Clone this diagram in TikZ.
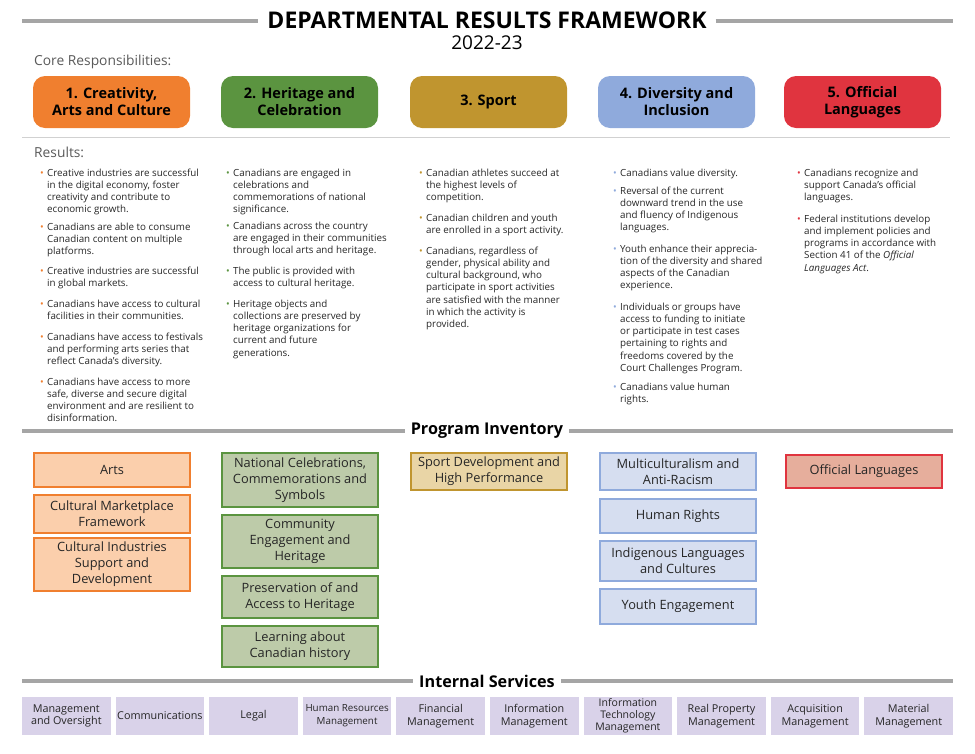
\documentclass[tikz,border=0pt]{standalone}
\usepackage{fontspec}
\setmainfont{Open Sans}
\usetikzlibrary{positioning}

\definecolor{arancio}{HTML}{F07F2F}
\definecolor{aranciochiaro}{HTML}{FBCFAC}
\definecolor{verde}{HTML}{5B9440}
\definecolor{verdechiaro}{HTML}{BDCBA9}
\definecolor{oro}{HTML}{C0952F}
\definecolor{orochiaro}{HTML}{E9D5A6}
\definecolor{blu}{HTML}{8FAADC}
\definecolor{bluchiaro}{HTML}{D6DEF0}
\definecolor{rosso}{HTML}{E0343F}
\definecolor{rossochiaro}{HTML}{E6AE9C}
\definecolor{lavanda}{HTML}{D9D2E9}
\definecolor{grigiolinea}{HTML}{A5A5A5}
\definecolor{grigiotesto}{HTML}{595959}
\definecolor{testo}{HTML}{262626}

\newcommand{\pallino}[1]{\strut\llap{\textcolor{#1}{\textbullet}\hspace{3.5pt}}}

\begin{document}
\begin{tikzpicture}[x=1pt, y=-1pt,
    titolo/.style={font=\bfseries\fontsize{23}{26}\selectfont, inner xsep=9pt, inner ysep=0pt},
    sezione/.style={font=\bfseries\fontsize{16.2}{18}\selectfont, inner xsep=6pt, inner ysep=0pt},
    linea/.style={line width=3.5pt, grigiolinea},
    etichetta/.style={anchor=west, inner sep=0pt, text=grigiotesto, font=\fontsize{13.8}{15}\selectfont},
    resp/.style={rounded corners=12pt, minimum width=157pt, minimum height=52pt, inner sep=0pt,
                 align=center, font=\bfseries\fontsize{14.5}{17}\selectfont},
    esito/.style={anchor=north west, align=left, inner sep=0pt, text=testo, font=\fontsize{9.8}{12.2}\selectfont},
    prog/.style={draw, line width=1.2pt, minimum width=156pt, inner sep=0pt, align=center,
                 text=testo, font=\fontsize{12.8}{16}\selectfont},
    serv/.style={fill=lavanda, minimum width=88.5pt, minimum height=38pt, inner sep=0pt, align=center,
                 text=testo, font=\fontsize{10.8}{12.8}\selectfont}]
    \useasboundingbox (0,0) rectangle (975,753);

    % Titolo
    \node[titolo] (titolo) at (487,20) {DEPARTMENTAL RESULTS FRAMEWORK};
    \node[font=\fontsize{19}{22}\selectfont, inner sep=0pt] (anno) at (487,43) {2022-23};
    \coordinate (tsx) at (22,21);
    \coordinate (tdx) at (953,21);
    \draw[linea] (tsx) -- (tsx -| titolo.west);
    \draw[linea] (tdx -| titolo.east) -- (tdx);

    % Responsabilita essenziali
    \node[etichetta] (core) at (34,62) {Core Responsibilities:};
    \node[resp, fill=arancio] (r1) at (111.5,102) {1. Creativity,\\Arts and Culture};
    \node[resp, fill=verde] (r2) at (299.5,102) {2. Heritage and\\Celebration};
    \node[resp, fill=oro] (r3) at (488.5,102) {3. Sport};
    \node[resp, fill=blu] (r4) at (676.5,102) {4. Diversity and\\Inclusion};
    \node[resp, fill=rosso] (r5) at (862.5,102) {5. Official\\Languages};
    \coordinate (sep1) at (22,137);
    \coordinate (sep2) at (950,137);
    \draw[black!18, line width=0.8pt] (sep1) -- (sep2);

    % Risultati
    \node[etichetta] (ris) at (34,152) {Results:};

    % colonna 1
    \node[esito] (e11) at (47,167.5) {\pallino{arancio}Creative industries are successful\\in the digital economy, foster\\creativity and contribute to\\economic growth.};
    \node[esito] (e12) at (47,221.5) {\pallino{arancio}Canadians are able to consume\\Canadian content on multiple\\platforms.};
    \node[esito] (e13) at (47,265.5) {\pallino{arancio}Creative industries are successful\\in global markets.};
    \node[esito] (e14) at (47,298.5) {\pallino{arancio}Canadians have access to cultural\\facilities in their communities.};
    \node[esito] (e15) at (47,331.5) {\pallino{arancio}Canadians have access to festivals\\and performing arts series that\\reflect Canada's diversity.};
    \node[esito] (e16) at (47,376.5) {\pallino{arancio}Canadians have access to more\\safe, diverse and secure digital\\environment and are resilient to\\disinformation.};

    % colonna 2
    \node[esito] (e21) at (233,167.5) {\pallino{verde}Canadians are engaged in\\celebrations and\\commemorations of national\\significance.};
    \node[esito] (e22) at (233,220.5) {\pallino{verde}Canadians across the country\\are engaged in their communities\\through local arts and heritage.};
    \node[esito] (e23) at (233,265.5) {\pallino{verde}The public is provided with\\access to cultural heritage.};
    \node[esito] (e24) at (233,298.5) {\pallino{verde}Heritage objects and\\collections are preserved by\\heritage organizations for\\current and future\\generations.};

    % colonna 3
    \node[esito] (e31) at (426,167.5) {\pallino{oro}Canadian athletes succeed at\\the highest levels of\\competition.};
    \node[esito] (e32) at (426,212.5) {\pallino{oro}Canadian children and youth\\are enrolled in a sport activity.};
    \node[esito] (e33) at (426,245.5) {\pallino{oro}Canadians, regardless of\\gender, physical ability and\\cultural background, who\\participate in sport activities\\are satisfied with the manner\\in which the activity is\\provided.};

    % colonna 4
    \node[esito] (e41) at (620,167.5) {\pallino{blu}Canadians value diversity.};
    \node[esito] (e42) at (620,185.5) {\pallino{blu}Reversal of the current\\downward trend in the use\\and fluency of Indigenous\\languages.};
    \node[esito] (e43) at (620,243.5) {\pallino{blu}Youth enhance their apprecia-\\tion of the diversity and shared\\aspects of the Canadian\\experience.};
    \node[esito] (e44) at (620,301.5) {\pallino{blu}Individuals or groups have\\access to funding to initiate\\or participate in test cases\\pertaining to rights and\\freedoms covered by the\\Court Challenges Program.};
    \node[esito] (e45) at (620,381.5) {\pallino{blu}Canadians value human\\rights.};

    % colonna 5
    \node[esito] (e51) at (804,167.5) {\pallino{rosso}Canadians recognize and\\support Canada's official\\languages.};
    \node[esito] (e52) at (804,213.5) {\pallino{rosso}Federal institutions develop\\and implement policies and\\programs in accordance with\\Section 41 of the \textit{Official}\\\textit{Languages Act}.};

    % Inventario dei programmi
    \node[sezione] (inv) at (487,431) {Program Inventory};
    \coordinate (isx) at (22,431);
    \coordinate (idx) at (953,431);
    \draw[linea] (isx) -- (isx -| inv.west);
    \draw[linea] (idx -| inv.east) -- (idx);

    \node[prog, draw=arancio, fill=aranciochiaro, minimum height=34pt] (p11) at (112,470) {Arts};
    \node[prog, draw=arancio, fill=aranciochiaro, minimum height=38pt] (p12) at (112,514) {Cultural Marketplace\\Framework};
    \node[prog, draw=arancio, fill=aranciochiaro, minimum height=53pt] (p13) at (112,564.5) {Cultural Industries\\Support and\\Development};

    \node[prog, draw=verde, fill=verdechiaro, minimum height=54pt] (p21) at (300,480) {National Celebrations,\\Commemorations and\\Symbols};
    \node[prog, draw=verde, fill=verdechiaro, minimum height=53pt] (p22) at (300,541.5) {Community\\Engagement and\\Heritage};
    \node[prog, draw=verde, fill=verdechiaro, minimum height=42pt] (p23) at (300,597) {Preservation of and\\Access to Heritage};
    \node[prog, draw=verde, fill=verdechiaro, minimum height=41pt] (p24) at (300,646.5) {Learning about\\Canadian history};

    \node[prog, draw=oro, fill=orochiaro, minimum height=37pt] (p31) at (489,471.5) {Sport Development and\\High Performance};

    \node[prog, draw=blu, fill=bluchiaro, minimum height=37pt] (p41) at (678,471.5) {Multiculturalism and\\Anti-Racism};
    \node[prog, draw=blu, fill=bluchiaro, minimum height=34pt] (p42) at (678,516) {Human Rights};
    \node[prog, draw=blu, fill=bluchiaro, minimum height=40pt] (p43) at (678,561) {Indigenous Languages\\and Cultures};
    \node[prog, draw=blu, fill=bluchiaro, minimum height=35pt] (p44) at (678,606.5) {Youth Engagement};

    \node[prog, draw=rosso, fill=rossochiaro, minimum height=33pt] (p51) at (864,471.5) {Official Languages};

    % Servizi interni
    \node[sezione] (int) at (487,681) {Internal Services};
    \coordinate (ssx) at (22,681);
    \coordinate (sdx) at (953,681);
    \draw[linea] (ssx) -- (ssx -| int.west);
    \draw[linea] (sdx -| int.east) -- (sdx);

    \node[serv] (s1) at (66.3,716) {Management\\and Oversight};
    \node[serv] (s2) at (159.9,716) {Communications};
    \node[serv] (s3) at (253.5,716) {Legal};
    \node[serv, font=\fontsize{9.8}{12.8}\selectfont] (s4) at (347.1,716) {Human Resources\\Management};
    \node[serv] (s5) at (440.7,716) {Financial\\Management};
    \node[serv] (s6) at (534.3,716) {Information\\Management};
    \node[serv, font=\fontsize{10.5}{11.8}\selectfont] (s7) at (627.9,716) {Information\\Technology\\Management};
    \node[serv] (s8) at (721.5,716) {Real Property\\Management};
    \node[serv] (s9) at (815.1,716) {Acquisition\\Management};
    \node[serv] (s10) at (908.7,716) {Material\\Management};
\end{tikzpicture}
\end{document}
